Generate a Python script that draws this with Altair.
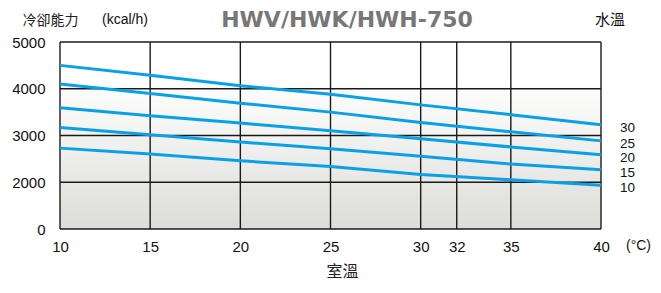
import altair as alt
import pandas as pd

# ---- data ----
temps = [10, 15, 20, 25, 30, 35, 40]
series_names = ["30", "25", "20", "15", "10"]
cap_30 = [4500, 4290, 4065, 3880, 3655, 3445, 3230]
cap_25 = [4100, 3900, 3690, 3500, 3280, 3080, 2885]
cap_20 = [3595, 3420, 3265, 3100, 2930, 2755, 2590]
cap_15 = [3170, 3015, 2860, 2715, 2555, 2390, 2270]
cap_10 = [2730, 2605, 2460, 2335, 2165, 2055, 1870]
x_ticks = [10, 15, 20, 25, 30, 32, 35, 40]
y_ticks = [0, 2000, 3000, 4000, 5000]

W, H = 541, 187

rows = []
for name, vals in zip(series_names, [cap_30, cap_25, cap_20, cap_15, cap_10]):
    for t, v in zip(temps, vals):
        rows.append({"temp": t, "cap": v, "series": name})
df = pd.DataFrame(rows)
df_last = df[df["temp"] == temps[-1]]
df_x = pd.DataFrame({"temp": x_ticks})
df_y = pd.DataFrame({"cap": y_ticks})

xs = alt.Scale(domain=[10, 40], nice=False, zero=False)
ys = alt.Scale(domain=y_ticks, range=[H, H * 0.75, H * 0.5, H * 0.25, 0], nice=False)

xaxis = alt.Axis(values=x_ticks, grid=False, domain=False, ticks=False, format="d",
                 labelFont="Liberation Sans", labelFontSize=15, labelColor="#111",
                 labelPadding=10, labelFlush=False, labelOverlap=False,
                 title="室溫", titleFont="Noto Sans CJK TC", titleFontSize=16,
                 titleFontWeight="normal", titleColor="#222",
                 titleX=282, titleY=42, titleAlign="center", titleBaseline="middle")
yaxis = alt.Axis(values=y_ticks, grid=False, domain=False, ticks=False, format="d",
                 labelFont="Liberation Sans", labelFontSize=15, labelColor="#111",
                 labelPadding=15, labelFlush=False, labelOverlap=False,
                 title="冷卻能力", titleFont="Noto Sans CJK TC", titleFontSize=14,
                 titleFontWeight="normal", titleColor="#222", titleAngle=0,
                 titleX=-38, titleY=-22, titleAlign="left", titleBaseline="middle")

X = alt.X("temp:Q", scale=xs, axis=xaxis)
Y = alt.Y("cap:Q", scale=ys, axis=yaxis)

grad = alt.Gradient(
    gradient="linear", x1=0, x2=0, y1=0, y2=1,
    stops=[alt.GradientStop(color="#ffffff", offset=0),
           alt.GradientStop(color="#ffffff", offset=0.2),
           alt.GradientStop(color="#dcdcd8", offset=1)],
)
one = alt.Data(values=[{}])

bg = alt.Chart(one).mark_rect(fill=grad).encode(
    x=alt.value(0), x2=alt.value(W), y=alt.value(0), y2=alt.value(H))

vrules = alt.Chart(df_x).mark_rule(color="#1a1a1a", strokeWidth=1.4).encode(x=X)
hrules = alt.Chart(df_y).mark_rule(color="#1a1a1a", strokeWidth=1.4).encode(y=Y)

lines = alt.Chart(df).mark_line(color="#0aa0e6", strokeWidth=3).encode(
    x=X, y=Y, detail="series:N")

labels = alt.Chart(df_last).mark_text(
    align="left", baseline="middle", dx=19, dy=3,
    font="Liberation Sans", fontSize=13.5, color="#111").encode(
    x=X, y=Y, text="series:N")

def note(txt, x, y, align, font="Liberation Sans", size=14, color="#111", weight="normal"):
    return alt.Chart(one).mark_text(
        text=txt, align=align, baseline="middle", font=font,
        fontSize=size, color=color, fontWeight=weight).encode(
        x=alt.value(x), y=alt.value(y))

title = note("HWV/HWK/HWH-750", 287, -22, "center", font="DejaVu Sans",
             size=22, color="#777777", weight="bold")
unit = note("(kcal/h)", 42, -22, "left", size=14)
water = note("水溫", 550, -22, "center", font="Noto Sans CJK TC", size=15)
degc = note("(°C)", 566, 204, "left", size=14)

chart = alt.layer(bg, vrules, hrules, lines, labels, title, unit, water, degc).properties(
    width=W, height=H,
    autosize=alt.AutoSizeParams(type="none"),
    padding={"left": 52, "top": 34, "right": 52, "bottom": 52},
).configure_view(stroke=None)

chart.save("out.html", embed_options={"renderer": "svg", "actions": False})
